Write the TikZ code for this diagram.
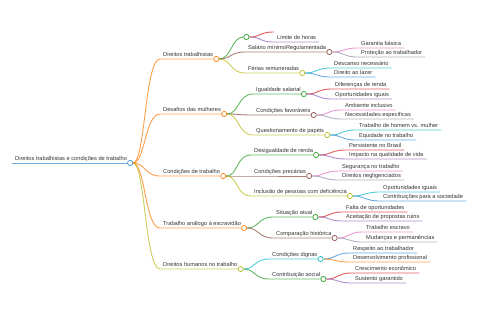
\documentclass[tikz,border=0pt]{standalone}
\usepackage{fontspec}
\setmainfont{Liberation Sans}
\definecolor{ink}{HTML}{333333}
\definecolor{c0}{HTML}{3A8FD6}
\definecolor{c1}{HTML}{FF7F0E}
\definecolor{c2}{HTML}{2CA02C}
\definecolor{c3}{HTML}{D62728}
\definecolor{c4}{HTML}{9467BD}
\definecolor{c5}{HTML}{8C564B}
\definecolor{c6}{HTML}{E377C2}
\definecolor{c7}{HTML}{9A93AE}
\definecolor{c8}{HTML}{BCBD22}
\definecolor{c9}{HTML}{17BECF}

\begin{document}
\begin{tikzpicture}[x=1bp,y=-1bp,
  txt/.style={anchor=south west,inner xsep=3bp,inner ysep=1bp,text height=4.3bp,text depth=1.2bp,font=\fontsize{5.7}{6.5}\selectfont,text=ink},
  hub/.style={circle,draw=#1,line width=0.7bp,fill=white,inner sep=0pt,minimum size=5.2bp},
  ln/.style={draw=#1,draw opacity=0.75,line width=0.9bp},
]
  \useasboundingbox (0,0) rectangle (480,320);
  % root
  \node[txt] (root) at (12,163) {Direitos trabalhistas e condições de trabalho};
  \node[hub=c0] (rooth) at (root.south east) {};
  \draw[ln=c0] (root.south west) -- (rooth);

  % Direitos trabalhistas
  \node[txt] (dtr) at (160,59) {Direitos trabalhistas};
  \node[hub=c1] (dtrh) at (dtr.south east) {};
  \draw[ln=c1] (rooth) .. controls +(15,0) and +(-15,0) .. (dtr.south west) -- (dtrh);
  \node[txt,inner xsep=0] (lim) at (245,37) {};
  \node[hub=c2] (limh) at (lim.south east) {};
  \draw[ln=c2] (dtrh) .. controls +(15,0) and +(-15,0) .. (limh);
  \node[txt,inner xsep=0] (vaz) at (274,32) {};
  \draw[ln=c3] (limh) .. controls +(15,0) and +(-15,0) .. (vaz.south west);
  \node[txt] (lho) at (274,42) {Limite de horas};
  \draw[ln=c4] (limh) .. controls +(15,0) and +(-15,0) .. (lho.south west) -- (lho.south east);
  \node[txt] (sal) at (245,52) {Salário mínimoRegulamentada};
  \node[hub=c5] (salh) at (sal.south east) {};
  \draw[ln=c5] (dtrh) .. controls +(15,0) and +(-15,0) .. (sal.south west) -- (salh);
  \node[txt] (gar) at (358,48) {Garantia básica};
  \draw[ln=c6] (salh) .. controls +(15,0) and +(-15,0) .. (gar.south west) -- (gar.south east);
  \node[txt] (pro) at (358,57) {Proteção ao trabalhador};
  \draw[ln=c7] (salh) .. controls +(15,0) and +(-15,0) .. (pro.south west) -- (pro.south east);
  \node[txt] (fer) at (245,73) {Férias remuneradas};
  \node[hub=c8] (ferh) at (fer.south east) {};
  \draw[ln=c8] (dtrh) .. controls +(15,0) and +(-15,0) .. (fer.south west) -- (ferh);
  \node[txt] (des) at (331,68) {Descanso necessário};
  \draw[ln=c9] (ferh) .. controls +(15,0) and +(-15,0) .. (des.south west) -- (des.south east);
  \node[txt] (laz) at (331,77) {Direito ao lazer};
  \draw[ln=c0] (ferh) .. controls +(15,0) and +(-15,0) .. (laz.south west) -- (laz.south east);

  % Desafios das mulheres
  \node[txt] (dmu) at (160,114) {Desafios das mulheres};
  \node[hub=c1] (dmuh) at (dmu.south east) {};
  \draw[ln=c1] (rooth) .. controls +(15,0) and +(-15,0) .. (dmu.south west) -- (dmuh);
  \node[txt] (igu) at (253,94) {Igualdade salarial};
  \node[hub=c2] (iguh) at (igu.south east) {};
  \draw[ln=c2] (dmuh) .. controls +(15,0) and +(-15,0) .. (igu.south west) -- (iguh);
  \node[txt] (dif) at (332,89) {Diferenças de renda};
  \draw[ln=c3] (iguh) .. controls +(15,0) and +(-15,0) .. (dif.south west) -- (dif.south east);
  \node[txt] (opa) at (332,99) {Oportunidades iguais};
  \draw[ln=c4] (iguh) .. controls +(15,0) and +(-15,0) .. (opa.south west) -- (opa.south east);
  \node[txt] (fav) at (253,115) {Condições favoráveis};
  \node[hub=c5] (favh) at (fav.south east) {};
  \draw[ln=c5] (dmuh) .. controls +(15,0) and +(-15,0) .. (fav.south west) -- (favh);
  \node[txt] (amb) at (342,110) {Ambiente inclusivo};
  \draw[ln=c6] (favh) .. controls +(15,0) and +(-15,0) .. (amb.south west) -- (amb.south east);
  \node[txt] (nec) at (342,119) {Necessidades específicas};
  \draw[ln=c7] (favh) .. controls +(15,0) and +(-15,0) .. (nec.south west) -- (nec.south east);
  \node[txt] (que) at (253,135) {Questionamento de papéis};
  \node[hub=c8] (queh) at (que.south east) {};
  \draw[ln=c8] (dmuh) .. controls +(15,0) and +(-15,0) .. (que.south west) -- (queh);
  \node[txt] (hom) at (356,130) {Trabalho de homem vs. mulher};
  \draw[ln=c9] (queh) .. controls +(15,0) and +(-15,0) .. (hom.south west) -- (hom.south east);
  \node[txt] (equ) at (356,140) {Equidade no trabalho};
  \draw[ln=c0] (queh) .. controls +(15,0) and +(-15,0) .. (equ.south west) -- (equ.south east);

  % Condicoes de trabalho
  \node[txt] (ctr) at (160,176) {Condições de trabalho};
  \node[hub=c1] (ctrh) at (ctr.south east) {};
  \draw[ln=c1] (rooth) .. controls +(15,0) and +(-15,0) .. (ctr.south west) -- (ctrh);
  \node[txt] (dsg) at (251,155) {Desigualdade de renda};
  \node[hub=c2] (dsgh) at (dsg.south east) {};
  \draw[ln=c2] (ctrh) .. controls +(15,0) and +(-15,0) .. (dsg.south west) -- (dsgh);
  \node[txt] (per) at (346,150) {Persistente no Brasil};
  \draw[ln=c3] (dsgh) .. controls +(15,0) and +(-15,0) .. (per.south west) -- (per.south east);
  \node[txt] (imp) at (346,159) {Impacto na qualidade de vida};
  \draw[ln=c4] (dsgh) .. controls +(15,0) and +(-15,0) .. (imp.south west) -- (imp.south east);
  \node[txt] (pre) at (251,176) {Condições precárias};
  \node[hub=c5] (preh) at (pre.south east) {};
  \draw[ln=c5] (ctrh) .. controls +(15,0) and +(-15,0) .. (pre.south west) -- (preh);
  \node[txt] (seg) at (339,171) {Segurança no trabalho};
  \draw[ln=c6] (preh) .. controls +(15,0) and +(-15,0) .. (seg.south west) -- (seg.south east);
  \node[txt] (neg) at (339,180) {Direitos negligenciados};
  \draw[ln=c7] (preh) .. controls +(15,0) and +(-15,0) .. (neg.south west) -- (neg.south east);
  \node[txt] (inc) at (251,196) {Inclusão de pessoas com deficiência};
  \node[hub=c8] (inch) at (inc.south east) {};
  \draw[ln=c8] (ctrh) .. controls +(15,0) and +(-15,0) .. (inc.south west) -- (inch);
  \node[txt] (opb) at (380,192) {Oportunidades iguais};
  \draw[ln=c9] (inch) .. controls +(15,0) and +(-15,0) .. (opb.south west) -- (opb.south east);
  \node[txt] (con) at (380,201) {Contribuições para a sociedade};
  \draw[ln=c0] (inch) .. controls +(15,0) and +(-15,0) .. (con.south west) -- (con.south east);

  % Trabalho analogo a escravidao
  \node[txt] (tae) at (160,228) {Trabalho análogo à escravidão};
  \node[hub=c1] (taeh) at (tae.south east) {};
  \draw[ln=c1] (rooth) .. controls +(15,0) and +(-15,0) .. (tae.south west) -- (taeh);
  \node[txt] (sit) at (273,217) {Situação atual};
  \node[hub=c2] (sith) at (sit.south east) {};
  \draw[ln=c2] (taeh) .. controls +(15,0) and +(-15,0) .. (sit.south west) -- (sith);
  \node[txt] (fal) at (343,212) {Falta de oportunidades};
  \draw[ln=c3] (sith) .. controls +(15,0) and +(-15,0) .. (fal.south west) -- (fal.south east);
  \node[txt] (ace) at (343,221) {Aceitação de propostas ruins};
  \draw[ln=c4] (sith) .. controls +(15,0) and +(-15,0) .. (ace.south west) -- (ace.south east);
  \node[txt] (cmp) at (273,238) {Comparação histórica};
  \node[hub=c5] (cmph) at (cmp.south east) {};
  \draw[ln=c5] (taeh) .. controls +(15,0) and +(-15,0) .. (cmp.south west) -- (cmph);
  \node[txt] (esc) at (363,232) {Trabalho escravo};
  \draw[ln=c6] (cmph) .. controls +(15,0) and +(-15,0) .. (esc.south west) -- (esc.south east);
  \node[txt] (mud) at (363,242) {Mudanças e permanências};
  \draw[ln=c7] (cmph) .. controls +(15,0) and +(-15,0) .. (mud.south west) -- (mud.south east);

  % Direitos humanos no trabalho
  \node[txt] (dhu) at (160,269) {Direitos humanos no trabalho};
  \node[hub=c8] (dhuh) at (dhu.south east) {};
  \draw[ln=c8] (rooth) .. controls +(15,0) and +(-15,0) .. (dhu.south west) -- (dhuh);
  \node[txt] (dig) at (269,259) {Condições dignas};
  \node[hub=c9] (digh) at (dig.south east) {};
  \draw[ln=c9] (dhuh) .. controls +(15,0) and +(-15,0) .. (dig.south west) -- (digh);
  \node[txt] (res) at (350,253) {Respeito ao trabalhador};
  \draw[ln=c0] (digh) .. controls +(15,0) and +(-15,0) .. (res.south west) -- (res.south east);
  \node[txt] (dev) at (350,262) {Desenvolvimento profissional};
  \draw[ln=c1] (digh) .. controls +(15,0) and +(-15,0) .. (dev.south west) -- (dev.south east);
  \node[txt] (soc) at (269,279) {Contribuição social};
  \node[hub=c2] (soch) at (soc.south east) {};
  \draw[ln=c2] (dhuh) .. controls +(15,0) and +(-15,0) .. (soc.south west) -- (soch);
  \node[txt] (cre) at (352,273) {Crescimento econômico};
  \draw[ln=c3] (soch) .. controls +(15,0) and +(-15,0) .. (cre.south west) -- (cre.south east);
  \node[txt] (sus) at (352,283) {Sustento garantido};
  \draw[ln=c4] (soch) .. controls +(15,0) and +(-15,0) .. (sus.south west) -- (sus.south east);
\end{tikzpicture}
\end{document}
